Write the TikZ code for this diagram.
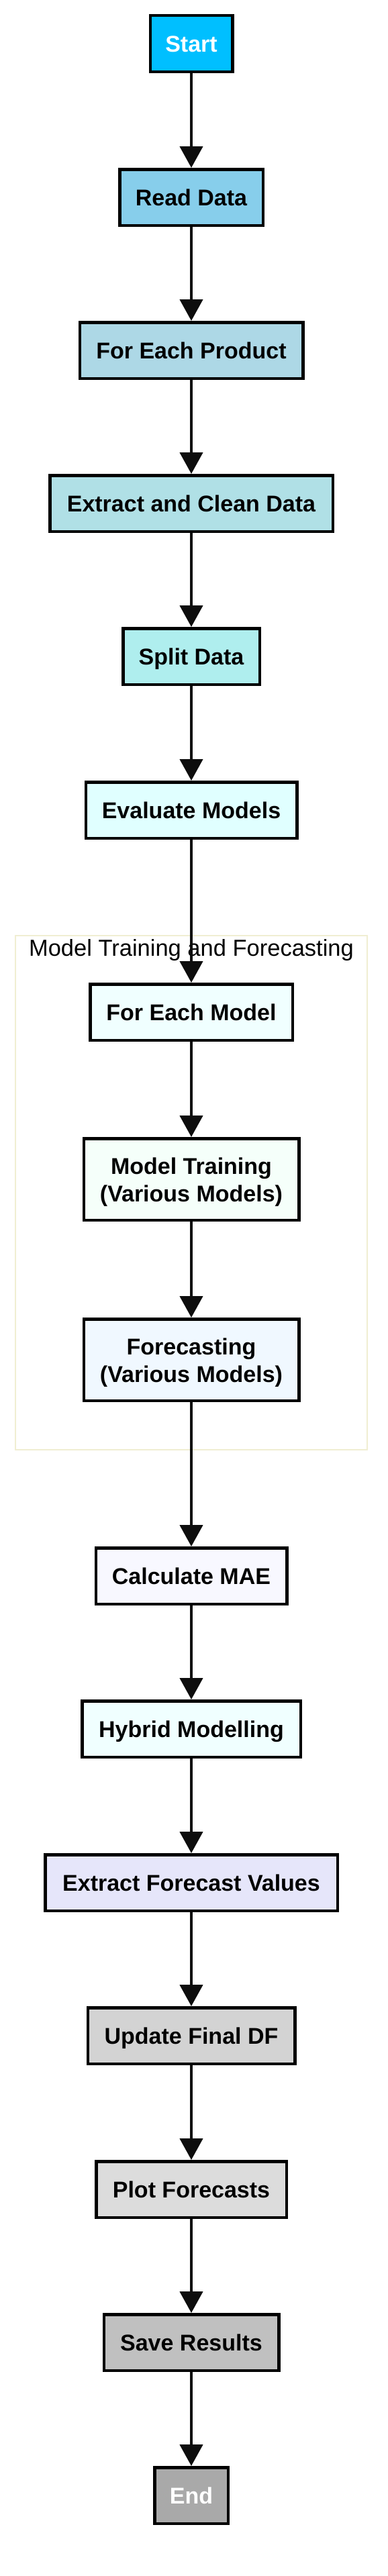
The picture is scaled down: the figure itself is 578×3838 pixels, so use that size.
\documentclass[tikz,border=0pt]{standalone}
\usepackage{fontspec}
\setmainfont{Liberation Sans}
\usetikzlibrary{arrows.meta}
\definecolor{cStart}{HTML}{00BFFF}
\definecolor{cRead}{HTML}{87CEEB}
\definecolor{cFEP}{HTML}{ADD8E6}
\definecolor{cECD}{HTML}{B0E0E6}
\definecolor{cSplit}{HTML}{AFEEEE}
\definecolor{cEval}{HTML}{E0FFFF}
\definecolor{cFEM}{HTML}{F0FFFF}
\definecolor{cMT}{HTML}{F5FFFA}
\definecolor{cFC}{HTML}{F0F8FF}
\definecolor{cMAE}{HTML}{F8F8FF}
\definecolor{cHyb}{HTML}{F0FFFF}
\definecolor{cEFV}{HTML}{E6E6FA}
\definecolor{cUFD}{HTML}{D3D3D3}
\definecolor{cPF}{HTML}{DCDCDC}
\definecolor{cSR}{HTML}{C0C0C0}
\definecolor{cEnd}{HTML}{A9A9A9}
\definecolor{cClus}{HTML}{F0EED2}
\begin{document}
\begin{tikzpicture}[x=1pt,y=-1pt,
  box/.style={draw=black, line width=4.5pt, inner sep=0pt, align=center,
    font=\fontsize{34}{41}\selectfont\bfseries, text height=25pt, text depth=0pt,
    minimum height=83.5pt},
  tall/.style={minimum height=121.5pt, text height=66pt, text depth=0pt},
  arr/.style={-{Triangle[width=34pt,length=32pt]}, line width=4.5pt, draw=black!95},
  clusterbox/.style={draw=cClus, line width=2pt, inner sep=0pt},
  clabel/.style={font=\fontsize{34.5}{40}\selectfont, inner sep=0pt, anchor=north}]
\useasboundingbox (0,0) rectangle (578,3838);
\fill[white] (0,0) rectangle (578,3838);

\node[clusterbox, minimum width=524pt, minimum height=766pt] (cl) at (285,1777) {};
\node[clabel] (cllabel) at (285,1399) {Model Training and Forecasting};

\node[box, fill=cStart, text=white, minimum width=122.5pt] (start) at (285,65) {Start};
\node[box, fill=cRead, minimum width=213.5pt] (read) at (285,294) {Read Data};
\node[box, fill=cFEP, minimum width=332.5pt] (fep) at (285,522) {For Each Product};
\node[box, fill=cECD, minimum width=421.5pt] (ecd) at (285,750) {Extract and Clean Data};
\node[box, fill=cSplit, minimum width=203.5pt] (split) at (285,978) {Split Data};
\node[box, fill=cEval, minimum width=314.5pt] (eval) at (285,1207) {Evaluate Models};
\node[box, fill=cFEM, minimum width=301.5pt] (fem) at (285,1508) {For Each Model};
\node[box, tall, fill=cMT, minimum width=320.5pt] (mt) at (285,1757) {Model Training\\(Various Models)};
\node[box, tall, fill=cFC, minimum width=320.5pt] (fc) at (285,2026) {Forecasting\\(Various Models)};
\node[box, fill=cMAE, minimum width=284.5pt] (mae) at (285,2348) {Calculate MAE};
\node[box, fill=cHyb, minimum width=325.5pt] (hyb) at (285,2576) {Hybrid Modelling};
\node[box, fill=cEFV, minimum width=435.5pt] (efv) at (285,2805) {Extract Forecast Values};
\node[box, fill=cUFD, minimum width=308.5pt] (ufd) at (285,3033) {Update Final DF};
\node[box, fill=cPF, minimum width=283.5pt] (pf) at (285,3262) {Plot Forecasts};
\node[box, fill=cSR, minimum width=260.5pt] (sr) at (285,3490) {Save Results};
\node[box, fill=cEnd, text=white, minimum width=109.5pt] (end) at (285,3718) {End};

\draw[arr] (start) -- (read);
\draw[arr] (read) -- (fep);
\draw[arr] (fep) -- (ecd);
\draw[arr] (ecd) -- (split);
\draw[arr] (split) -- (eval);
\draw[arr] (eval) -- (fem);
\draw[arr] (fem) -- (mt);
\draw[arr] (mt) -- (fc);
\draw[arr] (fc) -- (mae);
\draw[arr] (mae) -- (hyb);
\draw[arr] (hyb) -- (efv);
\draw[arr] (efv) -- (ufd);
\draw[arr] (ufd) -- (pf);
\draw[arr] (pf) -- (sr);
\draw[arr] (sr) -- (end);
\end{tikzpicture}
\end{document}
